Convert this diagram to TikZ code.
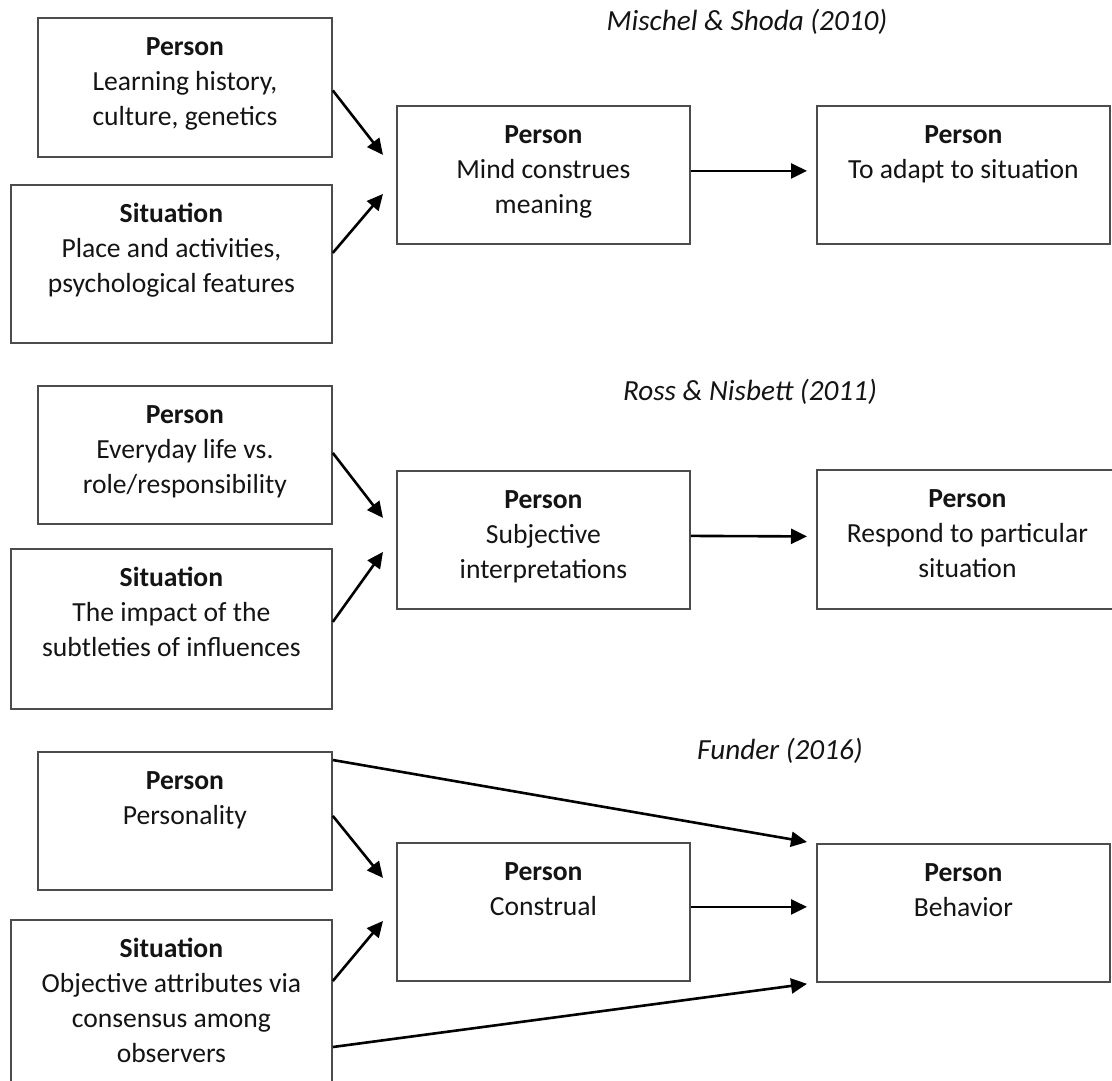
\documentclass[tikz,border=0pt]{standalone}
\usepackage{fontspec}
\setmainfont{Carlito}
\usetikzlibrary{arrows.meta,calc}

\newcommand{\cellbody}[4]{\parbox[t][#2][t]{#1}{\centering\rule{0pt}{38pt}\textbf{#3}\\#4}}

\begin{document}
\begin{tikzpicture}[
  x=1pt, y=-1pt,
  box/.style={draw=black!70,line width=1.8pt,inner sep=0pt,anchor=north west,text=black!92,font=\fontsize{27.6}{35}\selectfont},
  ttl/.style={anchor=base,inner sep=0pt,text=black!92,font=\fontsize{29.2}{34}\selectfont\itshape},
  arr/.style={-{Triangle[length=16pt,width=15pt]},line width=2.6pt,black},
]
  \useasboundingbox (0,0) rectangle (1112,1080);

  % Mischel & Shoda (2010)
  \node[ttl] (T1) at (747,30) {Mischel \& Shoda (2010)};
  \node[box] (A1) at (37,17)   {\cellbody{294pt}{139pt}{Person}{Learning history,\\culture, genetics}};
  \node[box] (B1) at (10,184)  {\cellbody{321pt}{158pt}{Situation}{Place and activities,\\psychological features}};
  \node[box] (C1) at (396,105) {\cellbody{293pt}{138pt}{Person}{Mind construes\\meaning}};
  \node[box] (D1) at (816,105) {\cellbody{293pt}{138pt}{Person}{To adapt to situation}};

  \draw[arr] ($(A1.east)+(0,3)$)   -- ($(C1.west)+(-13,-20)$);
  \draw[arr] ($(B1.east)+(0,-11)$) -- ($(C1.west)+(-13,19)$);
  \draw[arr] ($(C1.east)+(0,-4)$)  -- ($(D1.west)+(-9,-4)$);

  % Ross & Nisbett (2011)
  \node[ttl] (T2) at (750,400) {Ross \& Nisbett (2011)};
  \node[box] (A2) at (37,385)  {\cellbody{294pt}{138pt}{Person}{Everyday life vs.\\role/responsibility}};
  \node[box] (B2) at (10,548)  {\cellbody{321pt}{160pt}{Situation}{The impact of the\\subtleties of influences}};
  \node[box] (C2) at (396,470) {\cellbody{293pt}{138pt}{Person}{Subjective\\interpretations}};
  \node[box] (D2) at (816,469) {\cellbody{301pt}{139pt}{Person}{Respond to particular\\situation}};

  \draw[arr] ($(A2.east)+(0,-2)$) -- ($(C2.west)+(-13,-22)$);
  \draw[arr] ($(B2.east)+(0,-7)$) -- ($(C2.west)+(-13,12)$);
  \draw[arr] ($(C2.east)+(0,-4)$) -- ($(D2.west)+(-9,-3)$);

  % Funder (2016)
  \node[ttl] (T3) at (780,759) {Funder (2016)};
  \node[box] (A3) at (37,751)  {\cellbody{294pt}{138pt}{Person}{Personality}};
  \node[box] (B3) at (10,919)  {\cellbody{321pt}{175pt}{Situation}{Objective attributes via\\consensus among\\observers}};
  \node[box] (C3) at (396,842) {\cellbody{293pt}{138pt}{Person}{Construal}};
  \node[box] (D3) at (816,843) {\cellbody{293pt}{138pt}{Person}{Behavior}};

  \draw[arr] ($(A3.east)+(0,-5)$)        -- ($(C3.west)+(-13,-34)$);
  \draw[arr] ($(B3.north east)+(0,62)$)  -- ($(C3.west)+(-13,9)$);
  \draw[arr] ($(C3.east)+(0,-5)$)        -- ($(D3.west)+(-9,-6)$);
  \draw[arr] ($(A3.north east)+(0,9)$)   -- ($(D3.north west)+(-9,-1)$);
  \draw[arr] ($(B3.north east)+(0,128)$) -- ($(D3.south west)+(-9,1)$);
\end{tikzpicture}
\end{document}
